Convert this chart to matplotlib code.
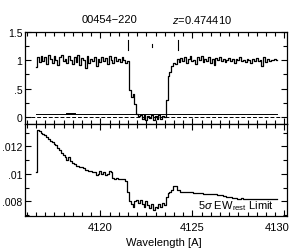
import numpy as np
import matplotlib
matplotlib.use('Agg')
import matplotlib.pyplot as plt
from matplotlib.ticker import MultipleLocator, FuncFormatter
from matplotlib.transforms import ScaledTranslation

# Данные: нормированный поток (шаг 0.1 A, начало 4116.5)
wl_start, wl_step = 4116.5, 0.1
flux = [
    0.88, 1.05, 0.97, 1.08, 0.99, 1.06, 0.93, 1.09, 1.02, 0.96,
    1.07, 1.00, 0.91, 1.05, 1.10, 0.98, 1.03, 0.95, 1.08, 1.01,
    0.94, 1.06, 0.97, 1.09, 0.92, 1.04, 1.00, 0.86, 1.07, 0.95,
    1.02, 0.98, 1.05, 0.90, 1.03, 0.97, 1.06, 0.99, 1.04, 0.93,
    1.08, 1.01, 0.96, 1.05, 0.98, 1.03, 0.97, 1.06, 1.00, 0.95,
    0.98,
    0.47, 0.35, 0.40, 0.22, 0.05, 0.02, 0.04, -0.03, 0.03, -0.05,
    0.02, -0.02, 0.04, -0.06, 0.01, -0.03, 0.03, -0.04, 0.02, -0.01,
    0.30, 0.72, 0.80, 0.90, 0.96, 0.93, 1.02,
    0.97, 1.04, 0.99, 1.06, 0.95, 1.03, 1.08, 0.98, 1.01, 0.94,
    1.05, 1.00, 1.07, 0.97, 1.03, 0.99, 1.06, 0.96, 1.02, 0.92,
    1.04, 1.00, 1.05, 0.98, 1.03, 0.97, 1.01, 1.04, 0.99, 1.02,
    0.96, 1.03, 1.00, 1.05, 0.98, 1.01, 0.97, 1.03, 1.00, 0.95,
    1.02, 0.99, 1.04, 0.98, 1.01, 0.90, 1.06, 0.97, 1.03, 0.99,
    1.01, 1.00, 1.02, 1.00,
]

# Предел 5 sigma EW (тот же шаг)
ew_limit = [
    0.0101, 0.0132, 0.0131, 0.0130, 0.0129, 0.0128, 0.0127, 0.0125, 0.0124, 0.0123,
    0.0122, 0.0121, 0.0119, 0.0117, 0.0115, 0.0114, 0.0112, 0.0110, 0.0112, 0.0109,
    0.0108, 0.0107, 0.0106, 0.0106, 0.0105, 0.0105, 0.0104, 0.0103, 0.0103, 0.0102,
    0.0102, 0.0101, 0.0101, 0.0099, 0.0100, 0.0102, 0.0100, 0.0101, 0.0099, 0.0100,
    0.0102, 0.0101, 0.0097, 0.0096, 0.0097, 0.0096, 0.0096, 0.0096, 0.0096, 0.0095,
    0.0087, 0.0080, 0.0078, 0.0076, 0.0080, 0.0081, 0.0079, 0.0081, 0.0078, 0.0076,
    0.0080, 0.0077, 0.0075, 0.0078, 0.0074, 0.0076, 0.0075, 0.0078, 0.0076, 0.0079,
    0.0077, 0.0083, 0.0086, 0.0087, 0.0088, 0.0091, 0.0091, 0.0088, 0.0088, 0.0087,
    0.0087, 0.0087, 0.00868, 0.00866, 0.00865, 0.00864, 0.00862, 0.0086, 0.0086, 0.00858,
    0.00857, 0.00856, 0.00855, 0.00855, 0.00854, 0.00853, 0.00852, 0.0085, 0.0085, 0.00849,
    0.00848, 0.00847, 0.0084, 0.00835, 0.0083, 0.0083, 0.00828, 0.00826, 0.00824, 0.00822,
    0.0082, 0.0082, 0.00822, 0.0082, 0.00818, 0.0082, 0.0082, 0.00818, 0.00818, 0.00817,
    0.00816, 0.00816, 0.00815, 0.00815, 0.00814, 0.00815, 0.00815, 0.00814, 0.00814, 0.00814,
    0.00814, 0.00815,
]

err_level = 0.05
err_blip_wl = [4118.2, 4118.6]
err_blip = [0.055, 0.055]
marks_wl = [4121.5, 4124.2]
mark_small_wl = 4122.8

wl = wl_start + wl_step * np.arange(len(flux))
wl_ew = wl_start + wl_step * np.arange(len(ew_limit))

plt.rcParams['font.family'] = ['Liberation Sans', 'DejaVu Sans']
plt.rcParams['mathtext.fontset'] = 'custom'
plt.rcParams['mathtext.rm'] = 'Liberation Sans'
plt.rcParams['mathtext.it'] = 'Liberation Sans:italic'
plt.rcParams['font.size'] = 8

fig = plt.figure(figsize=(2.89, 2.51), dpi=100)
ax1 = fig.add_axes([0.0865, 0.502, 0.907, 0.3665])
ax2 = fig.add_axes([0.0865, 0.1355, 0.907, 0.3665])

xlim = (4115.9, 4130.15)


def style(ax):
    ax.set_xlim(*xlim)
    ax.xaxis.set_major_locator(MultipleLocator(5))
    ax.xaxis.set_minor_locator(MultipleLocator(0.5))
    ax.tick_params(which='both', direction='in', top=True, right=True,
                   width=0.8, labelsize=8)
    ax.tick_params(which='major', length=4)
    ax.tick_params(which='minor', length=3)
    ax.tick_params(axis='x', which='major', pad=4)
    ax.tick_params(axis='y', which='major', pad=2, labelsize=7.5)
    for s in ax.spines.values():
        s.set_linewidth(0.9)


def short_fmt(v, pos):
    s = ('%g' % v)
    if s.startswith('0.'):
        s = s[1:]
    return s


# Верхняя панель: спектр
ax1.step(wl, flux, where='mid', color='k', lw=0.9)
ax1.plot([wl[0], wl[-1]], [err_level, err_level], color='k', lw=0.7)
ax1.plot(err_blip_wl, err_blip, color='k', lw=1.4)
ax1.axhline(0, color='k', lw=0.7, ls=(0, (4, 2)))
for m in marks_wl:
    ax1.plot([m, m], [1.18, 1.36], color='k', lw=0.8)
ax1.plot([mark_small_wl, mark_small_wl], [1.23, 1.28], color='k', lw=0.8)
style(ax1)
ax1.set_ylim(-0.125, 1.5)
ax1.yaxis.set_major_locator(MultipleLocator(0.5))
ax1.yaxis.set_minor_locator(MultipleLocator(0.25))
ax1.yaxis.set_major_formatter(FuncFormatter(short_fmt))
ax1.tick_params(labelbottom=False)

fig.text(110 / 289, 1 - 20 / 251, '00454\u2212220', ha='center', va='center', fontsize=8)
fig.text(202 / 289, 1 - 20 / 251, '$z$=0.474410', ha='center', va='center', fontsize=8)

# Нижняя панель: предел эквивалентной ширины
ax2.step(wl_ew, ew_limit, where='mid', color='k', lw=0.9)
style(ax2)
ax2.set_ylim(0.00693, 0.01362)
ax2.yaxis.set_major_locator(MultipleLocator(0.002))
ax2.yaxis.set_minor_locator(MultipleLocator(0.001))
ax2.yaxis.set_major_formatter(FuncFormatter(short_fmt))
ax2.text(4129.45, 0.0077, r'5$\sigma$ EW$_{\rm rest}$ Limit', ha='right',
         va='center', fontsize=8)
fig.text(164 / 289, 1 - 243 / 251, 'Wavelength [A]', ha='center', va='center', fontsize=8)

# последняя подпись по x сдвинута влево, как на оригинале
fig.canvas.draw()
for lab in ax2.get_xticklabels():
    if lab.get_text() == '4130':
        lab.set_transform(lab.get_transform() + ScaledTranslation(-7 / 100, 0, fig.dpi_scale_trans))

fig.savefig('out.png', dpi=100)
